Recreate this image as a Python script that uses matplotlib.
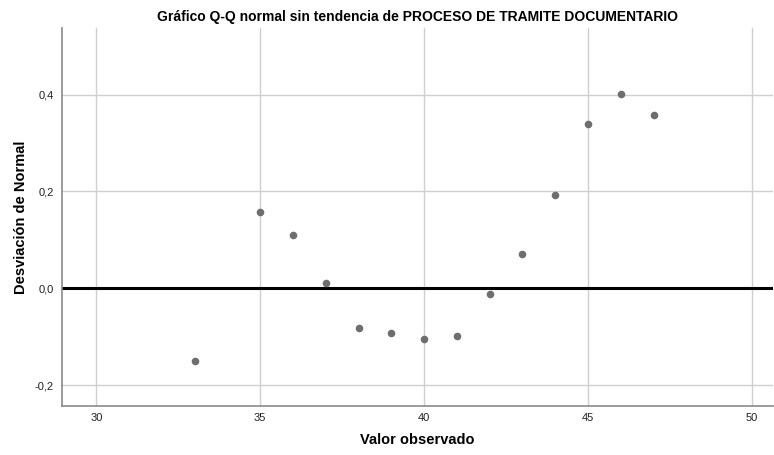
import matplotlib
matplotlib.use('Agg')
import matplotlib.pyplot as plt
import numpy as np

plt.rcParams['font.family'] = ['Liberation Sans', 'DejaVu Sans']

# Datos
valor_observado = [33, 35, 36, 37, 38, 39, 40, 41, 42, 43, 44, 45, 46, 47]
desviacion = [-0.149, 0.157, 0.110, 0.012, -0.081, -0.093, -0.104, -0.099,
              -0.012, 0.070, 0.193, 0.340, 0.402, 0.358]
xticks = [30, 35, 40, 45, 50]
yticks = [-0.2, 0.0, 0.2, 0.4]
ytick_labels = ['-0,2', '0,0', '0,2', '0,4']

fig = plt.figure(figsize=(7.74, 4.55), dpi=100)
ax = fig.add_axes([0.080, 0.108, 0.919, 0.830])

ax.set_xlim(28.95, 50.65)
ax.set_ylim(-0.2425, 0.537)

ax.set_xticks(xticks)
ax.set_xticklabels([str(t) for t in xticks])
ax.set_yticks(yticks)
ax.set_yticklabels(ytick_labels)
ax.tick_params(axis='both', length=0, labelsize=8, colors='#222222', pad=6)
ax.tick_params(axis='x', pad=5)

ax.grid(True, color='#cfcfcf', linewidth=1.0)
ax.set_axisbelow(True)

for s in ['top', 'right']:
    ax.spines[s].set_visible(False)
ax.spines['left'].set_color('#8a8a8a')
ax.spines['bottom'].set_color('#8a8a8a')
ax.spines['left'].set_linewidth(1.2)
ax.spines['bottom'].set_linewidth(1.2)

ax.axhline(0, color='black', linewidth=2.2, zorder=2)

ax.scatter(valor_observado, desviacion, s=30, color='#6e6e6e', zorder=3, linewidths=0)

ax.set_title('Gráfico Q-Q normal sin tendencia de PROCESO DE TRAMITE DOCUMENTARIO',
             fontsize=10, fontweight='bold', pad=5)
ax.set_xlabel('Valor observado', fontsize=10.5, fontweight='bold', labelpad=7)
ax.set_ylabel('Desviación de Normal', fontsize=10.5, fontweight='bold', labelpad=5)

fig.savefig('out.png', dpi=100, facecolor='white')
